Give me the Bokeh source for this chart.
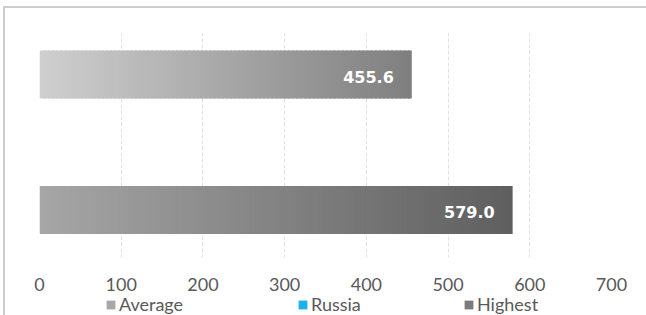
import numpy as np
from bokeh.plotting import figure
from bokeh.layouts import column
from bokeh.models import Range1d, FixedTicker, Legend, LegendItem, ColumnDataSource
from bokeh.core.properties import value
from bokeh.embed import file_html
from bokeh.resources import INLINE

# ---- data ----
series = ["Average", "Russia", "Highest"]
values = [455.6, None, 579.0]
x_ticks = [0, 100, 200, 300, 400, 500, 600, 700]

# ---- style ----
grad_start = ["#CFCFCF", "#33CCF5", "#A6A6A6"]
grad_end = ["#7F7F7F", "#0A9AD8", "#5F5F5F"]
legend_colors = ["#A8A8A8", "#1AB2E8", "#7C7C7C"]
legend_x = [66, 258, 424]   # screen offsets of each legend entry
FONT = "Lato"


def hex2rgb(h):
    h = h.lstrip("#")
    return np.array([int(h[i:i + 2], 16) for i in (0, 2, 4)], dtype=float)


def rgb2hex(c):
    c = np.clip(np.round(c), 0, 255).astype(int)
    return "#%02x%02x%02x" % tuple(c)


p = figure(
    width=641, height=285,
    x_range=Range1d(0, 700),
    y_range=Range1d(2.70, -0.62),
    output_backend="svg", toolbar_location=None,
    min_border_left=34, min_border_right=35,
    min_border_top=24, min_border_bottom=36,
    background_fill_color="white", border_fill_color="white",
    outline_line_color=None,
)

# gradient bars built from slices
N = 90
ys, lefts, rights, cols = [], [], [], []
positions = np.arange(len(series))
for i, v in enumerate(values):
    if v is None:
        continue
    edges = np.linspace(0, v, N + 1)
    c0, c1 = hex2rgb(grad_start[i]), hex2rgb(grad_end[i])
    ov = v / N * 0.6
    for k in range(N):
        t = (k + 0.5) / N
        lefts.append(edges[k])
        rights.append(edges[k + 1] + (ov if k < N - 1 else 0))
        ys.append(positions[i])
        cols.append(rgb2hex(c0 + (c1 - c0) * t))

src = ColumnDataSource(dict(y=ys, left=lefts, right=rights, color=cols))
p.hbar(y="y", left="left", right="right", height=0.71, fill_color="color",
       line_color=None, source=src)

# data labels
lab_x = [v for v in values if v is not None]
lab_y = [positions[i] for i, v in enumerate(values) if v is not None]
lab_t = ["%.1f" % v for v in values if v is not None]
p.text(x=lab_x, y=lab_y, text=lab_t, text_align="right", text_baseline="middle",
       x_offset=-18, y_offset=2, text_color="white",
       text_font=value("DejaVu Sans"), text_font_style="bold",
       text_font_size="16px")

# axes
p.xaxis.ticker = FixedTicker(ticks=x_ticks)
p.xaxis.axis_line_color = None
p.xaxis.major_tick_line_color = None
p.xaxis.minor_tick_line_color = None
p.xaxis.major_label_text_font = FONT
p.xaxis.major_label_text_font_size = "18px"
p.xaxis.major_label_text_color = "#595959"
p.xaxis.major_label_standoff = 14
p.yaxis.visible = False

p.xgrid.grid_line_color = "#E2E2E2"
p.xgrid.grid_line_dash = "4 2"
p.xgrid.grid_line_width = 1
p.ygrid.grid_line_color = None

# ---- legend strip (separate figure below the chart) ----
p2 = figure(
    width=641, height=22,
    x_range=Range1d(0, 700), y_range=Range1d(10, 11),
    output_backend="svg", toolbar_location=None,
    min_border_left=0, min_border_right=0, min_border_top=0, min_border_bottom=0,
    background_fill_color="white", border_fill_color="white",
    outline_line_color=None,
)
p2.axis.visible = False
p2.grid.visible = False
for i, s in enumerate(series):
    v = values[i] if values[i] is not None else 0.0
    r = p2.hbar(y=[positions[i]], left=[0], right=[v], height=0.5,
                fill_color=legend_colors[i], line_color=None)
    lg = Legend(items=[LegendItem(label=s, renderers=[r])],
                orientation="horizontal", location=(legend_x[i], 0),
                glyph_width=11, glyph_height=11, label_standoff=3,
                padding=0, margin=0,
                border_line_color=None, background_fill_alpha=0,
                label_text_font=FONT, label_text_font_size="18px",
                label_text_color="#595959")
    p2.add_layout(lg, "center")

layout = column(p, p2, spacing=0)
layout.styles = {
    "margin-left": "3px", "margin-top": "6px",
    "border-top": "2px solid #CDCDCD", "border-left": "2px solid #CDCDCD",
}

open("out.html", "w").write(file_html(layout, INLINE))
